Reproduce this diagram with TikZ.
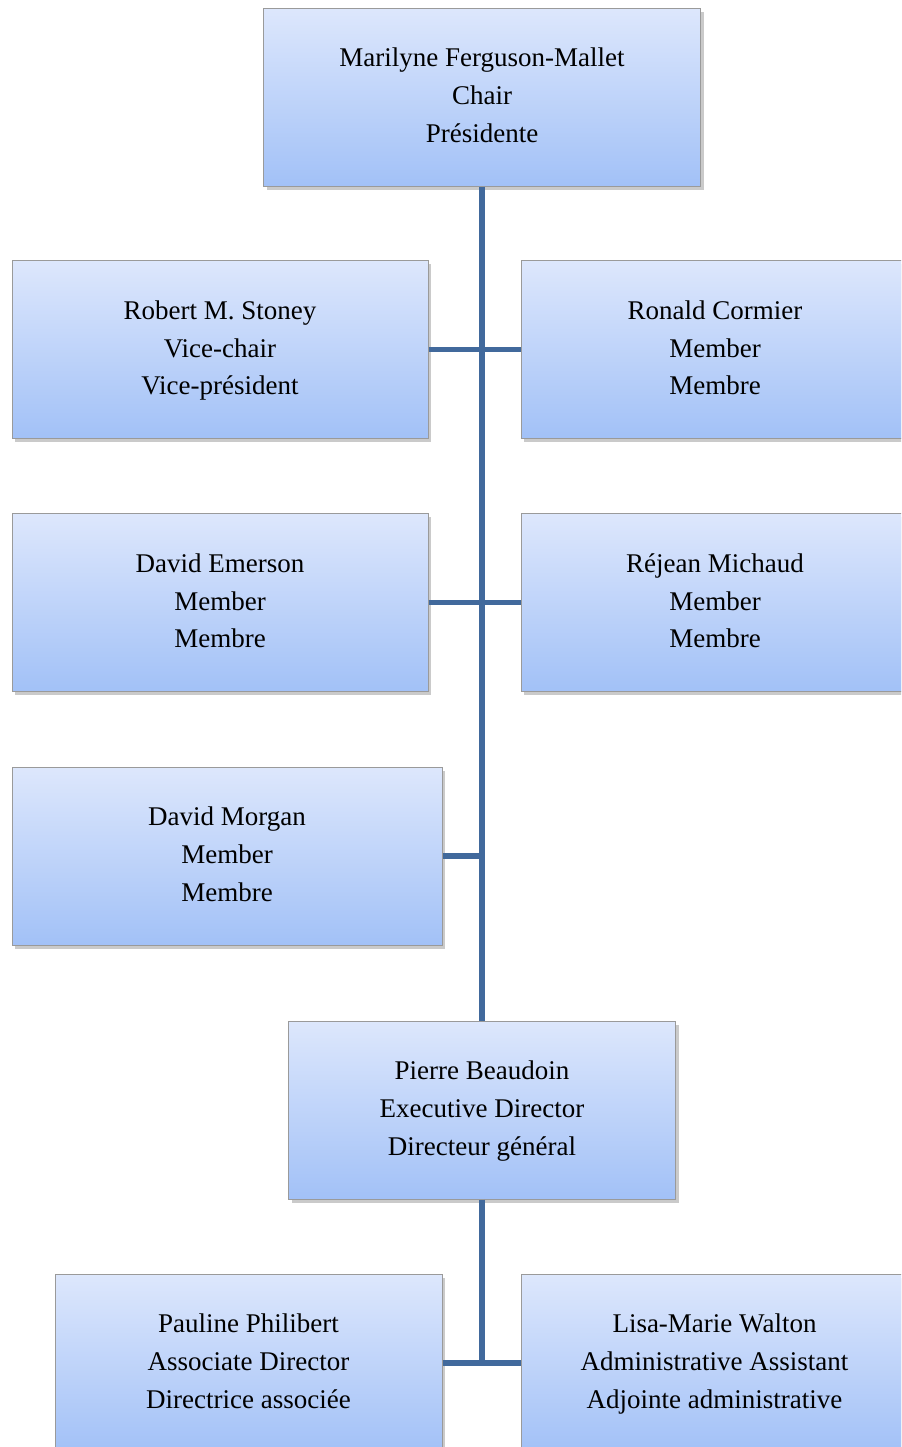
\documentclass[tikz,border=0pt]{standalone}
\usepackage{fontspec}
\setmainfont{Liberation Serif}
\usepackage{tikz}
\usetikzlibrary{shadows}
\definecolor{boxtop}{HTML}{DDE7FC}
\definecolor{boxbot}{HTML}{A2C1F7}
\definecolor{edge}{HTML}{9A9A9A}
\definecolor{link}{HTML}{41699C}
\tikzset{
  post/.style={rectangle, draw=edge, line width=0.5pt, top color=boxtop, bottom color=boxbot,
    minimum height=89pt, align=center, inner sep=0pt,
    font=\fontsize{13.5}{18.8}\selectfont,
    drop shadow={shadow xshift=1.5pt, shadow yshift=-1.8pt, opacity=0.35, fill=black!60}},
  wide/.style={post, minimum width=#1},
  link/.style={draw=link, line width=2.6pt}
}
\begin{document}
\begin{tikzpicture}[x=0.5pt, y=-0.5pt]
  \useasboundingbox (0,0) rectangle (901,1447);
  \clip (0,0) rectangle (901,1447);

  % board
  \node[wide=218.5pt] (chair) at (482,97) {Marilyne Ferguson-Mallet\strut\\Chair\strut\\Présidente\strut};
  \node[wide=208pt] (stoney) at (220,349.5) {Robert M. Stoney\strut\\Vice-chair\strut\\Vice-président\strut};
  \node[wide=194pt] (cormier) at (715,349.5) {Ronald Cormier\strut\\Member\strut\\Membre\strut};
  \node[wide=208pt] (emerson) at (220,602.5) {David Emerson\strut\\Member\strut\\Membre\strut};
  \node[wide=194pt] (michaud) at (715,602.5) {Réjean Michaud\strut\\Member\strut\\Membre\strut};
  \node[wide=215pt] (morgan) at (227,856) {David Morgan\strut\\Member\strut\\Membre\strut};

  % staff
  \node[wide=193.5pt] (beaudoin) at (482,1110) {Pierre Beaudoin\strut\\Executive Director\strut\\Directeur général\strut};
  \node[wide=193.5pt] (philibert) at (248.5,1363) {Pauline Philibert\strut\\Associate Director\strut\\Directrice associée\strut};
  \node[wide=193.5pt] (walton) at (714.5,1363) {Lisa-Marie Walton\strut\\Administrative Assistant\strut\\Adjointe administrative\strut};

  \coordinate (m) at (482,856);
  \coordinate (s) at (482,1362);

  \draw[link] (chair.south) -- (beaudoin.north);
  \draw[link] (stoney.east) -- (cormier.west);
  \draw[link] (emerson.east) -- (michaud.west);
  \draw[link] (morgan.east) -- (m);
  \draw[link] (beaudoin.south) -- (s);
  \draw[link] (philibert.east) -- (walton.west);
\end{tikzpicture}
\end{document}
